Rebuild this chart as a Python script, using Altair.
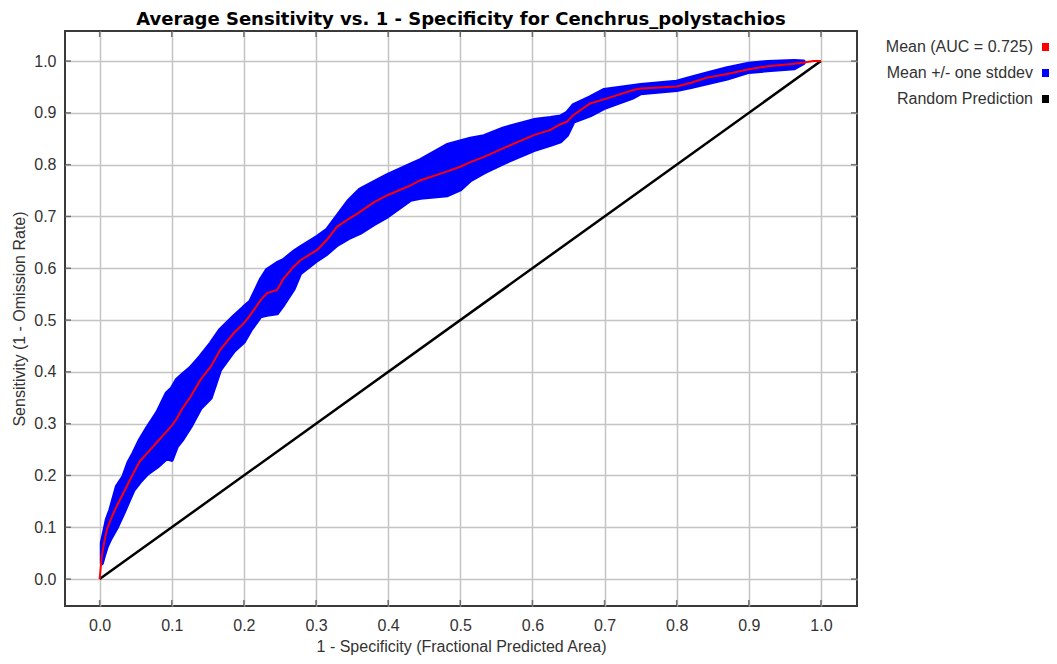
import altair as alt
import pandas as pd

# ---------------- data ----------------
mean_x = [0.000, 0.003, 0.006, 0.010, 0.015, 0.024, 0.033, 0.040, 0.047, 0.056,
          0.066, 0.080, 0.093, 0.100, 0.107, 0.115, 0.126, 0.140, 0.154, 0.167,
          0.186, 0.200, 0.209, 0.223, 0.232, 0.246, 0.255, 0.269, 0.278, 0.302,
          0.315, 0.329, 0.345, 0.361, 0.380, 0.399, 0.431, 0.445, 0.482, 0.500,
          0.514, 0.533, 0.560, 0.602, 0.625, 0.639, 0.648, 0.657, 0.680, 0.699,
          0.740, 0.750, 0.800, 0.820, 0.842, 0.870, 0.900, 0.926, 0.963, 0.976,
          0.990, 1.000]
mean_y = [0.000, 0.044, 0.069, 0.095, 0.114, 0.142, 0.166, 0.186, 0.205, 0.228,
          0.243, 0.265, 0.285, 0.296, 0.310, 0.330, 0.352, 0.385, 0.410, 0.442,
          0.475, 0.494, 0.510, 0.538, 0.552, 0.558, 0.580, 0.603, 0.615, 0.636,
          0.655, 0.680, 0.695, 0.709, 0.727, 0.741, 0.760, 0.770, 0.787, 0.796,
          0.805, 0.815, 0.832, 0.857, 0.867, 0.878, 0.883, 0.896, 0.918, 0.926,
          0.944, 0.947, 0.951, 0.958, 0.968, 0.975, 0.984, 0.990, 0.995, 0.997,
          1.000, 1.000]

band_x = mean_x[1:60]
band_lo = [0.030, 0.045, 0.063, 0.078, 0.100, 0.127, 0.150, 0.172, 0.188,
           0.203, 0.217, 0.233, 0.230, 0.256, 0.270, 0.294, 0.330, 0.350, 0.404,
           0.440, 0.458, 0.480, 0.507, 0.510, 0.513, 0.530, 0.560, 0.590, 0.616,
           0.628, 0.645, 0.658, 0.668, 0.685, 0.700, 0.732, 0.736, 0.741, 0.752,
           0.770, 0.785, 0.803, 0.828, 0.838, 0.845, 0.857, 0.883, 0.895, 0.909,
           0.930, 0.938, 0.944, 0.950, 0.957, 0.966, 0.979, 0.982, 0.986, 0.996]
band_hi = [0.070, 0.089, 0.115, 0.134, 0.179, 0.198, 0.225, 0.243, 0.269,
           0.292, 0.322, 0.359, 0.368, 0.385, 0.395, 0.408, 0.430, 0.455, 0.481,
           0.507, 0.525, 0.536, 0.577, 0.597, 0.610, 0.616, 0.632, 0.640, 0.661,
           0.674, 0.700, 0.730, 0.752, 0.766, 0.780, 0.800, 0.809, 0.838, 0.845,
           0.850, 0.855, 0.870, 0.886, 0.890, 0.893, 0.900, 0.915, 0.930, 0.944,
           0.952, 0.954, 0.960, 0.968, 0.976, 0.986, 0.995, 0.998, 1.000, 0.999]

random_x = [0.0, 1.0]
random_y = [0.0, 1.0]

tick_values = [0.0, 0.1, 0.2, 0.3, 0.4, 0.5, 0.6, 0.7, 0.8, 0.9, 1.0]

series = ["Mean (AUC = 0.725)", "Mean +/- one stddev", "Random Prediction"]
series_colors = ["#ff0000", "#0000ff", "#000000"]

title_text = "Average Sensitivity vs. 1 - Specificity for Cenchrus_polystachios"
x_title = "1 - Specificity (Fractional Predicted Area)"
y_title = "Sensitivity (1 - Omission Rate)"

# ---------------- tables ----------------
mean_df = pd.DataFrame({"x": mean_x, "y": mean_y, "series": series[0]})
band_df = pd.DataFrame({"x": band_x, "lo": band_lo, "hi": band_hi, "series": series[1]})
rand_df = pd.DataFrame({"x": random_x, "y": random_y, "series": series[2]})
ticks_df = pd.DataFrame({"v": tick_values})

W, H = 792, 575
FONT = "Liberation Sans"

xscale = alt.Scale(domain=[-0.048, 1.05], nice=False, zero=False)
yscale = alt.Scale(domain=[-0.052, 1.058], nice=False, zero=False)
cscale = alt.Scale(domain=series, range=series_colors)

xaxis = alt.Axis(values=tick_values, format=".1f", title=x_title, grid=True,
                 tickSize=0, labelPadding=11, titlePadding=5)
yaxis = alt.Axis(values=tick_values, format=".1f", title=y_title, grid=True,
                 tickSize=0, labelPadding=9, titlePadding=6)

legend = alt.Legend(title=None, orient="none", legendX=973, legendY=8,
                    symbolType="square", symbolSize=16, symbolStrokeWidth=4,
                    labelAlign="right", labelOffset={"expr": "-21"}, labelLimit=400,
                    labelFontSize=16, labelFont=FONT, labelColor="#333333",
                    rowPadding=6, padding=0)

random_line = alt.Chart(rand_df).mark_line(strokeWidth=2.5).encode(
    x=alt.X("x:Q", scale=xscale, axis=xaxis),
    y=alt.Y("y:Q", scale=yscale, axis=yaxis),
    color=alt.Color("series:N", scale=cscale, legend=legend, sort=series),
)

band = alt.Chart(band_df).mark_area(strokeWidth=4, strokeJoin="round", opacity=1).encode(
    x=alt.X("x:Q", scale=xscale),
    y=alt.Y("lo:Q", scale=yscale),
    y2="hi:Q",
    color=alt.Color("series:N", scale=cscale, legend=legend, sort=series),
    stroke=alt.value("#0000ff"),
)

mean_line = alt.Chart(mean_df).mark_line(strokeWidth=2).encode(
    x=alt.X("x:Q", scale=xscale),
    y=alt.Y("y:Q", scale=yscale),
    color=alt.Color("series:N", scale=cscale, legend=legend, sort=series),
)

tick_color = "#444444"
bottom_ticks = alt.Chart(ticks_df).mark_tick(orient="vertical", thickness=1.5, size=6, color=tick_color).encode(
    x=alt.X("v:Q", scale=xscale), y=alt.value(H - 3))
top_ticks = alt.Chart(ticks_df).mark_tick(orient="vertical", thickness=1.5, size=6, color=tick_color).encode(
    x=alt.X("v:Q", scale=xscale), y=alt.value(3))
left_ticks = alt.Chart(ticks_df).mark_tick(orient="horizontal", thickness=1.5, size=6, color=tick_color).encode(
    y=alt.Y("v:Q", scale=yscale), x=alt.value(3))
right_ticks = alt.Chart(ticks_df).mark_tick(orient="horizontal", thickness=1.5, size=6, color=tick_color).encode(
    y=alt.Y("v:Q", scale=yscale), x=alt.value(W - 3))

chart = alt.layer(
    random_line, band, mean_line, bottom_ticks, top_ticks, left_ticks, right_ticks
).properties(
    width=W, height=H,
    title=alt.Title(title_text, anchor="middle", fontSize=18, fontWeight="bold",
                    font="DejaVu Sans", color="#000000", offset=2),
    autosize=alt.AutoSizeParams(type="none"),
    padding={"left": 57, "top": 23, "right": 192, "bottom": 50},
    background="white",
).configure_view(
    stroke="#3a3a3a", strokeWidth=2
).configure_axis(
    domain=False, gridColor="#c4c4c4", gridWidth=1.5,
    labelFont=FONT, labelFontSize=16, labelColor="#333333",
    titleFont=FONT, titleFontSize=16, titleColor="#333333", titleFontWeight="normal",
)

chart.save("out.html", embed_options={"renderer": "svg", "actions": False})
